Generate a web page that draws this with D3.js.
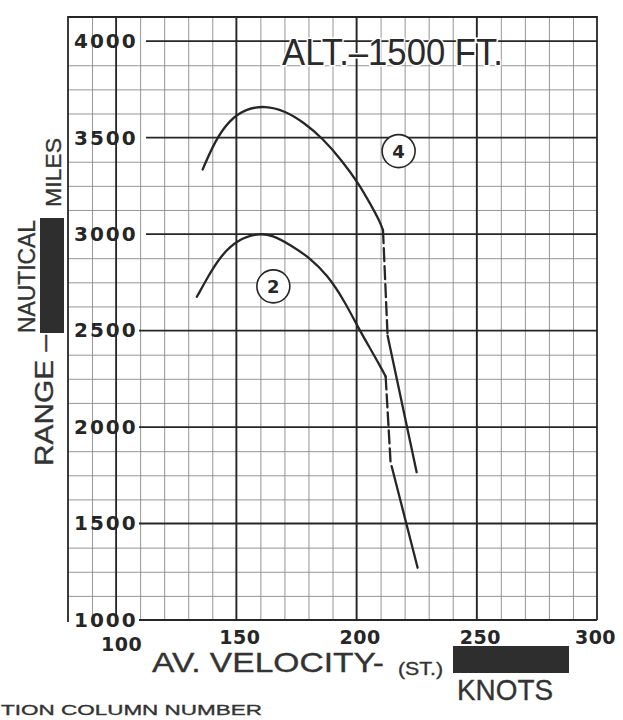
<!DOCTYPE html>
<html>
<head>
<meta charset="utf-8">
<script src="https://cdn.jsdelivr.net/npm/d3@7"></script>
<style>
    body { margin: 0; background: #fff; }
    svg { display: block; }
    .minor line { stroke: #8a8a8a; stroke-width: 0.9; }
    .major { stroke: #262626; stroke-width: 1.8; }
    .curve { fill: none; stroke: #262626; stroke-width: 2.3; stroke-linecap: round; }
    .lbl { font-family: "Liberation Sans", Arial, sans-serif; fill: #333; stroke: #333; stroke-width: 0.35; }
    .tick text { font-family: "DejaVu Sans", sans-serif; font-weight: bold; fill: #262626; }
</style>
</head>
<body>
<div id="viewport"></div>
<script>
// curve (4): solid arch, dashed drop, steep tail
const velocity4 = [136.0, 141.0, 147.0, 154.0, 162.0, 170.0, 178.0, 186.0, 194.0, 201.0, 206.0, 209.5, 211.0];
const range4    = [3335, 3480, 3590, 3650, 3665, 3640, 3580, 3495, 3380, 3260, 3150, 3070, 3020];
const velocity4Dash = [211.0, 212.9];
const range4Dash    = [3020, 2474];
const velocity4Tail = [212.9, 225.0];
const range4Tail    = [2474, 1766];

// curve (2)
const velocity2 = [133.6, 138.0, 143.3, 150.3, 159.0, 165.0, 172.5, 180.8, 187.8, 194.7, 201.0, 206.0, 210.0, 212.1];
const range2    = [2675, 2775, 2884, 2970, 3005, 2995, 2944, 2875, 2788, 2660, 2508, 2400, 2312, 2262];
const velocity2Dash = [212.1, 214.2];
const range2Dash    = [2262, 1807];
const velocity2Tail = [214.6, 225.4];
const range2Tail    = [1797, 1271];

// circled curve numbers
const markIds = ["4", "2"];
const markVelocity = [217.5, 165.4];
const markRange = [3430, 2729];

const xTicks = [100, 150, 200, 250, 300];
const yTicks = [1000, 1500, 2000, 2500, 3000, 3500, 4000];

const W = 623, H = 720;
const frame = { left: 68, right: 597, top: 17, bottom: 620 };

const x = d3.scaleLinear().domain([80, 300]).range([frame.left, frame.right]);
const y = d3.scaleLinear().domain([1000, 4125]).range([frame.bottom, frame.top]);

const svg = d3.select("#viewport").append("svg")
    .attr("width", W)
    .attr("height", H);

const zip = (vs, rs) => vs.map((v, i) => [v, rs[i]]);

// minor grid, every 10 kt and every 125 miles
svg.append("g").attr("class", "minor")
    .attr("transform", `translate(0,${frame.bottom})`)
    .call(d3.axisBottom(x).tickValues(d3.range(90, 300, 10)).tickSize(-(frame.bottom - frame.top)).tickFormat(""))
    .call(g => g.select(".domain").remove());
svg.append("g").attr("class", "minor")
    .attr("transform", `translate(${frame.left},0)`)
    .call(d3.axisLeft(y).tickValues(d3.range(1125, 4125, 125).filter(d => d % 500 !== 0)).tickSize(-(frame.right - frame.left)).tickFormat(""))
    .call(g => g.select(".domain").remove());

// major grid
svg.append("g").selectAll("line")
    .data(xTicks.slice(0, -1))
    .join("line")
    .attr("class", "major")
    .attr("x1", d => x(d)).attr("x2", d => x(d))
    .attr("y1", frame.top).attr("y2", frame.bottom);
// horizontal majors start right after the label painted on the grid
svg.append("g").selectAll("line")
    .data(yTicks)
    .join("line")
    .attr("class", "major")
    .attr("x1", d => d >= 3000 ? 146 : 139).attr("x2", frame.right)
    .attr("y1", d => y(d)).attr("y2", d => y(d));

// frame
svg.append("path")
    .attr("class", "major")
    .attr("fill", "none")
    .attr("d", `M${frame.left},${frame.bottom + 2}V${frame.top}H${frame.right}V${frame.bottom}`);

// y tick labels sit inside the frame
svg.append("g")
    .attr("transform", `translate(${frame.left + 2},0)`)
    .call(d3.axisRight(y).tickValues(yTicks).tickSize(0).tickPadding(4).tickFormat(d3.format("d")))
    .call(g => g.select(".domain").remove())
    .call(g => g.selectAll("text").attr("font-size", 20).attr("letter-spacing", 2));

// x tick labels
svg.append("g")
    .attr("transform", `translate(0,${frame.bottom})`)
    .call(d3.axisBottom(x).tickValues(xTicks).tickSize(0).tickPadding(9).tickFormat(d3.format("d")))
    .call(g => g.select(".domain").remove())
    .call(g => g.selectAll("text").attr("font-size", 19).attr("letter-spacing", 0.5)
        .attr("dx", d => d === 100 ? 5 : d === 300 ? -2 : 3)
        .attr("dy", d => d === 100 ? "1.15em" : "0.8em"));

// curves
const smooth = d3.line().x(d => x(d[0])).y(d => y(d[1])).curve(d3.curveBasis);
const straight = d3.line().x(d => x(d[0])).y(d => y(d[1]));

const curves = svg.append("g");
[[velocity4, range4], [velocity2, range2]].forEach(([vs, rs]) => {
    curves.append("path").attr("class", "curve").attr("d", smooth(zip(vs, rs)));
});
[[velocity4Dash, range4Dash], [velocity2Dash, range2Dash]].forEach(([vs, rs]) => {
    curves.append("path").attr("class", "curve")
        .attr("stroke-dasharray", "13,5")
        .attr("stroke-linecap", "butt")
        .attr("d", straight(zip(vs, rs)));
});
[[velocity4Tail, range4Tail], [velocity2Tail, range2Tail]].forEach(([vs, rs]) => {
    curves.append("path").attr("class", "curve").attr("d", straight(zip(vs, rs)));
});

// circled numbers
const marks = svg.append("g").selectAll("g")
    .data(markIds)
    .join("g")
    .attr("transform", (d, i) => `translate(${x(markVelocity[i])},${y(markRange[i])})`);
marks.append("circle")
    .attr("r", 16.5)
    .attr("fill", "#fff")
    .attr("stroke", "#262626")
    .attr("stroke-width", 1.6);
marks.append("text")
    .attr("text-anchor", "middle")
    .attr("dy", "0.36em")
    .attr("font-family", "DejaVu Sans, sans-serif")
    .attr("font-weight", "bold")
    .attr("font-size", 18)
    .attr("fill", "#262626")
    .text(d => d);

// title, drawn over the grid with a thin white halo
svg.append("text")
    .attr("x", 282).attr("y", 65)
    .attr("font-family", "Liberation Sans, Arial, sans-serif")
    .attr("font-size", 36)
    .attr("fill", "#2a2a2a")
    .attr("stroke", "#fff").attr("stroke-width", 3).attr("paint-order", "stroke")
    .attr("textLength", 221).attr("lengthAdjust", "spacingAndGlyphs")
    .text("ALT.–1500 FT.");

// y axis title (rotated)
const vtext = (txt, bx, by, size, len) => svg.append("text").attr("class", "lbl")
    .attr("transform", `translate(${bx},${by}) rotate(-90)`)
    .attr("font-size", size)
    .attr("textLength", len).attr("lengthAdjust", "spacingAndGlyphs")
    .text(txt);
vtext("RANGE –", 53, 466, 25, 131);
vtext("NAUTICAL", 35, 333, 24, 113);
svg.append("rect").attr("x", 40).attr("y", 218).attr("width", 24).attr("height", 115).attr("fill", "#2e2e2e");
vtext("MILES", 61, 207, 22, 69);

// x axis title
svg.append("text").attr("class", "lbl")
    .attr("x", 152).attr("y", 672)
    .attr("font-size", 28)
    .attr("textLength", 232).attr("lengthAdjust", "spacingAndGlyphs")
    .text("AV. VELOCITY-");
svg.append("text").attr("class", "lbl")
    .attr("x", 398).attr("y", 675)
    .attr("font-size", 18)
    .attr("textLength", 45).attr("lengthAdjust", "spacingAndGlyphs")
    .text("(ST.)");
svg.append("rect").attr("x", 453).attr("y", 646).attr("width", 116).attr("height", 27).attr("fill", "#2e2e2e");
svg.append("text").attr("class", "lbl")
    .attr("x", 457).attr("y", 700)
    .attr("font-size", 30)
    .attr("textLength", 96).attr("lengthAdjust", "spacingAndGlyphs")
    .text("KNOTS");

// footer line, cut by the page edge in the original scan
svg.append("text").attr("class", "lbl")
    .attr("x", 1).attr("y", 715)
    .attr("font-size", 15)
    .attr("textLength", 261).attr("lengthAdjust", "spacingAndGlyphs")
    .text("TION COLUMN NUMBER");
</script>
</body>
</html>
